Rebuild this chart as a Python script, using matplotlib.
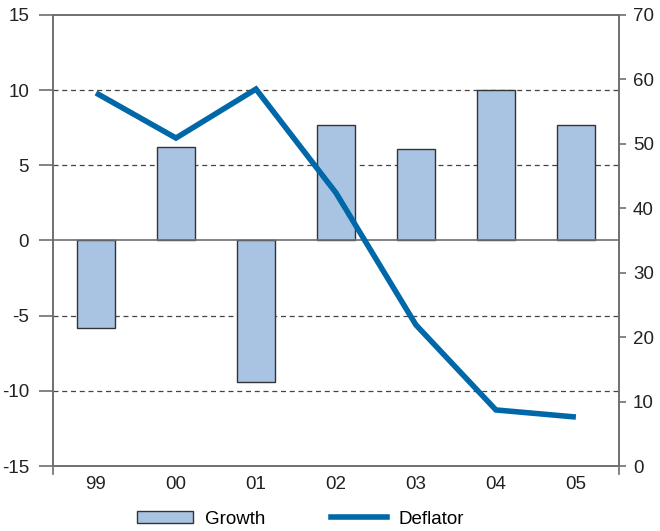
import matplotlib
matplotlib.use("Agg")
import matplotlib.pyplot as plt
from matplotlib.patches import Patch
from matplotlib.lines import Line2D

years = ["99", "00", "01", "02", "03", "04", "05"]
growth = [-5.8, 6.2, -9.4, 7.7, 6.1, 10.0, 7.7]
deflator = [57.9, 50.9, 58.5, 42.4, 21.9, 8.7, 7.6]

bar_color = "#a8c4e2"
line_color = "#0068a8"
axis_color = "#6e6e6e"

plt.rcParams["font.family"] = ["Liberation Sans", "DejaVu Sans"]
plt.rcParams["font.size"] = 13.5
plt.rcParams["axes.unicode_minus"] = False

fig = plt.figure(figsize=(6.6, 5.31), dpi=100)
ax = fig.add_axes([0.080, 0.1224, 0.858, 0.8494])
ax2 = ax.twinx()

x = list(range(len(years)))
ax.bar(x, growth, width=0.47, color=bar_color, edgecolor="#333333",
       linewidth=1.0, zorder=3)
ax.axhline(0, color=axis_color, linewidth=1.2, zorder=4)
for y in (-10, -5, 5, 10):
    ax.axhline(y, color="#444444", linewidth=0.9, linestyle=(0, (4, 3)), zorder=1)

ax.set_xlim(-0.54, len(years) - 1 + 0.54)
ax.set_ylim(-15, 15)
ax.set_yticks(range(-15, 16, 5))
ax.set_xticks(x)
ax.set_xticklabels(years)

ax2.plot(x, deflator, color=line_color, linewidth=4.0, solid_capstyle="butt",
         solid_joinstyle="miter", zorder=5)
ax2.set_ylim(0, 70)
ax2.set_yticks(range(0, 71, 10))

ax.set_zorder(ax2.get_zorder() - 1)
ax2.patch.set_visible(False)

for a in (ax, ax2):
    for s in a.spines.values():
        s.set_color(axis_color)
        s.set_linewidth(1.2)
ax.tick_params(axis="y", length=10, width=1.2, color=axis_color,
               labelcolor="#222222", labelsize=13.5, pad=7)
ax2.tick_params(axis="y", length=5, width=1.2, color=axis_color,
                labelcolor="#222222", labelsize=13.5, pad=5)
ax.tick_params(axis="x", length=0, labelcolor="#222222", labelsize=13.5, pad=7)
ax.spines["left"].set_bounds(-15.5, 15)
ax2.spines["right"].set_bounds(-1.2, 70)

handles = [Patch(facecolor=bar_color, edgecolor="#333333", linewidth=1.0),
           Line2D([0], [0], color=line_color, linewidth=4.0)]
fig.legend(handles, ["Growth", "Deflator"], loc="lower left",
           bbox_to_anchor=(137 / 660, 0.006), ncol=2, frameon=False,
           borderpad=0, borderaxespad=0,
           handlelength=3.0, handleheight=0.65, columnspacing=3.5,
           handletextpad=0.6, fontsize=13.5)

fig.savefig("out.png", dpi=100)
